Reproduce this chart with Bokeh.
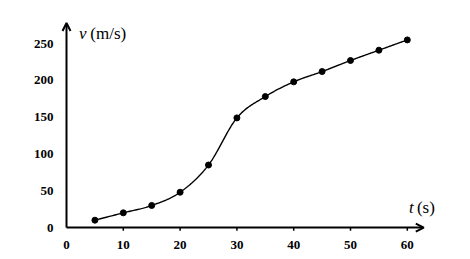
import numpy as np
from bokeh.plotting import figure
from bokeh.models import Range1d, Arrow, OpenHead, Label, FixedTicker
from bokeh.core.properties import value
from bokeh.embed import file_html
from bokeh.resources import INLINE

t_values = [5, 10, 15, 20, 25, 30, 35, 40, 45, 50, 55, 60]
v_values = [10, 20, 30, 48, 85, 149, 178, 198, 212, 227, 241, 255]
x_ticks = [0, 10, 20, 30, 40, 50, 60]
y_ticks = [0, 50, 100, 150, 200, 250]

# smooth (Catmull-Rom / Bezier) curve through the data points
def smooth(xs, ys, n=30):
    P = np.column_stack([xs, ys]).astype(float)
    out = []
    for i in range(len(P) - 1):
        p0 = P[i - 1] if i > 0 else P[i]
        p1 = P[i]
        p2 = P[i + 1]
        p3 = P[i + 2] if i + 2 < len(P) else P[i + 1]
        c1 = p1 + (p2 - p0) / 6.0
        c2 = p2 - (p3 - p1) / 6.0
        s = np.linspace(0, 1, n, endpoint=(i == len(P) - 2))[:, None]
        b = (1 - s) ** 3 * p1 + 3 * (1 - s) ** 2 * s * c1 + 3 * (1 - s) * s ** 2 * c2 + s ** 3 * p2
        out.append(b)
    B = np.vstack(out)
    return B[:, 0], B[:, 1]

sx, sy = smooth(t_values, v_values)

SERIF = "Liberation Serif"

p = figure(width=466, height=251, output_backend="svg", toolbar_location=None,
           x_range=Range1d(-1.41, 70.07), y_range=Range1d(-10.8, 280),
           min_border_left=58, min_border_right=2, min_border_top=21, min_border_bottom=14)
p.outline_line_color = None
p.grid.visible = False
p.background_fill_color = "white"

p.line(sx, sy, line_color="black", line_width=1.4)
p.scatter(t_values, v_values, size=6, color="black")

# axes (at frame edges, labels only)
p.xaxis.ticker = FixedTicker(ticks=x_ticks)
p.yaxis.ticker = FixedTicker(ticks=y_ticks)
for ax in (p.xaxis[0], p.yaxis[0]):
    ax.axis_line_color = None
    ax.minor_tick_line_color = None
    ax.major_tick_line_color = None
    ax.major_tick_in = 0
    ax.major_tick_out = 0
    ax.major_label_text_font = SERIF
    ax.major_label_text_font_style = "bold"
    ax.major_label_text_font_size = "13px"
    ax.major_label_text_color = "black"
p.xaxis.major_label_standoff = 5
p.yaxis.major_label_standoff = 5

# tick marks below the x axis line
p.segment(x0=x_ticks[1:], y0=[0] * 6, x1=x_ticks[1:], y1=[-4.5] * 6,
          line_color="black", line_width=1.5)

p.add_layout(Arrow(end=OpenHead(size=8, line_width=2, line_color="black"),
                   x_start=0, y_start=0, x_end=62.9, y_end=0,
                   line_width=2, line_color="black"))
p.add_layout(Arrow(end=OpenHead(size=8, line_width=2, line_color="black"),
                   x_start=0, y_start=0, x_end=0, y_end=278,
                   line_width=2, line_color="black"))

# axis titles
p.text(x=[2.2], y=[264], text=["v"], text_font=value(SERIF), text_font_style="italic",
       text_font_size="17px", text_color="black", text_baseline="alphabetic")
p.text(x=[4.2], y=[264], text=["(m/s)"], text_font=value(SERIF),
       text_font_size="17px", text_color="black", text_baseline="alphabetic")
common = dict(text_font_size="17px", text_color="black", text_baseline="alphabetic",
              text_font=SERIF)
p.add_layout(Label(x=60.3, y=27.5, text="t", text_font_style="italic", **common))
p.add_layout(Label(x=61.7, y=27.5, text="(s)", **common))

open("out.html", "w").write(file_html(p, INLINE))
